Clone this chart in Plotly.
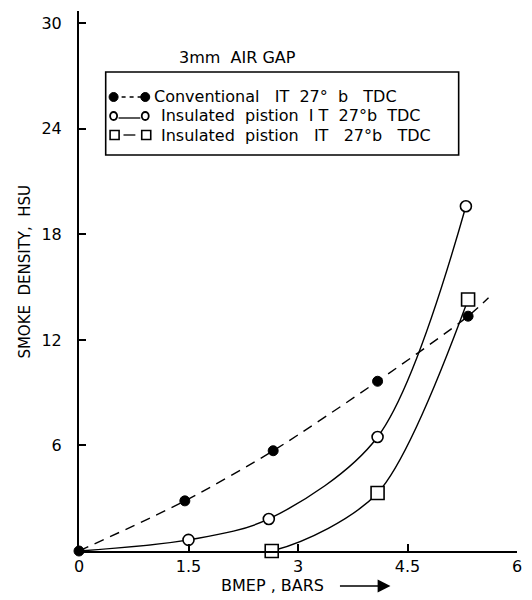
import plotly.graph_objects as go

# ---------------- data ----------------
bmep_conv = [0, 1.45, 2.66, 4.09, 5.33]
smoke_conv = [0, 2.85, 5.7, 9.65, 13.35]
# extent of the dashed trend line drawn through the conventional points
conv_line_x = [0, 1.45, 2.66, 4.09, 5.33, 5.61]
conv_line_y = [0, 2.85, 5.7, 9.65, 13.35, 14.4]

bmep_ins = [0, 1.50, 2.60, 4.09, 5.30]
smoke_ins = [0, 0.63, 1.82, 6.48, 19.6]

bmep_sq = [0, 2.64, 4.09, 5.33]
smoke_sq = [0, 0.0, 3.3, 14.3]

x_ticks = [0, 1.5, 3, 4.5, 6]
x_ticktext = ["0", "1.5", "3", "4.5", "6"]
y_ticks = [6, 12, 18, 24, 30]
y_ticktext = ["6", "12", "18", "24", "30"]

legend_labels = [
    "Conventional   IT  27°  b   TDC",
    "Insulated  pistion  I T  27°b  TDC",
    "Insulated  pistion   IT   27°b   TDC",
]
chart_title = "3mm  AIR GAP"
x_title = "BMEP , BARS"
y_title = "SMOKE  DENSITY,  HSU"

# ---------------- layout geometry ----------------
W, H = 532, 600
L, R, T, B = 79, 10, 11, 49
PW, PH = W - L - R, H - T - B
FONT = "DejaVu Sans"


def px(x):
    return (x - L) / PW


def py(y):
    return (H - B - y) / PH


fig = go.Figure()

# lines
fig.add_trace(go.Scatter(x=conv_line_x, y=conv_line_y, mode="lines",
                         line=dict(color="black", width=1.4, dash="10px,7px", shape="spline", smoothing=0.8),
                         hoverinfo="skip", showlegend=False))
fig.add_trace(go.Scatter(x=bmep_ins, y=smoke_ins, mode="lines",
                         line=dict(color="black", width=1.4, shape="spline", smoothing=0.9),
                         hoverinfo="skip", showlegend=False))
fig.add_trace(go.Scatter(x=bmep_sq, y=smoke_sq, mode="lines",
                         line=dict(color="black", width=1.4, shape="spline", smoothing=0.8),
                         hoverinfo="skip", showlegend=False))

# markers
fig.add_trace(go.Scatter(x=bmep_ins[1:], y=smoke_ins[1:], mode="markers", cliponaxis=False,
                         marker=dict(symbol="circle", size=11, color="white",
                                     line=dict(color="black", width=1.6)),
                         showlegend=False))
fig.add_trace(go.Scatter(x=bmep_sq[1:], y=smoke_sq[1:], mode="markers", cliponaxis=False,
                         marker=dict(symbol="square", size=13, color="white",
                                     line=dict(color="black", width=1.6)),
                         showlegend=False))
fig.add_trace(go.Scatter(x=bmep_conv, y=smoke_conv, mode="markers", cliponaxis=False,
                         marker=dict(symbol="circle", size=10, color="black",
                                     line=dict(color="black", width=1)),
                         showlegend=False))

shapes = []
annotations = []

# legend box
shapes.append(dict(type="rect", xref="paper", yref="paper",
                   x0=px(106), x1=px(463), y0=py(155), y1=py(72),
                   line=dict(color="black", width=1.6), fillcolor="white", layer="below"))

rows_y = [97, 116, 135]
m1x, m2x = 114, 146
# row 1: filled circles with dashed line
shapes.append(dict(type="line", xref="paper", yref="paper", x0=px(m1x), x1=px(m2x),
                   y0=py(rows_y[0]), y1=py(rows_y[0]), line=dict(color="black", width=1.3, dash="4px,4px")))
# row 2: solid
shapes.append(dict(type="line", xref="paper", yref="paper", x0=px(m1x + 5), x1=px(m2x - 5),
                   y0=py(rows_y[1] + 2), y1=py(rows_y[1] + 2), line=dict(color="black", width=1.3)))
# row 3: short solid
shapes.append(dict(type="line", xref="paper", yref="paper", x0=px(m1x + 10), x1=px(m2x - 10),
                   y0=py(rows_y[2]), y1=py(rows_y[2]), line=dict(color="black", width=1.3)))

for mx in (m1x, m2x):
    shapes.append(dict(type="circle", xref="paper", yref="paper", xsizemode="pixel", ysizemode="pixel",
                       xanchor=px(mx), yanchor=py(rows_y[0]), x0=-4.5, x1=4.5, y0=-4.5, y1=4.5,
                       fillcolor="black", line=dict(color="black", width=1)))
    shapes.append(dict(type="circle", xref="paper", yref="paper", xsizemode="pixel", ysizemode="pixel",
                       xanchor=px(mx), yanchor=py(rows_y[1]), x0=-3.5, x1=3.5, y0=-4, y1=4,
                       fillcolor="white", line=dict(color="black", width=1.8)))
    shapes.append(dict(type="rect", xref="paper", yref="paper", xsizemode="pixel", ysizemode="pixel",
                       xanchor=px(mx + 1), yanchor=py(rows_y[2]), x0=-4.5, x1=4.5, y0=-4.5, y1=4.5,
                       fillcolor="white", line=dict(color="black", width=1.6)))

text_x = [153, 160, 160]
for lbl, ty, tx in zip(legend_labels, rows_y, text_x):
    annotations.append(dict(xref="paper", yref="paper", x=px(tx), y=py(ty), text=lbl,
                            showarrow=False, xanchor="left", yanchor="middle",
                            font=dict(family=FONT, size=16, color="black")))

annotations.append(dict(xref="paper", yref="paper", x=px(178), y=py(58), text=chart_title,
                        showarrow=False, xanchor="left", yanchor="middle",
                        font=dict(family=FONT, size=16, color="black")))

# x axis title + arrow
annotations.append(dict(xref="paper", yref="paper", x=px(275), y=py(585), text=x_title,
                        showarrow=False, xanchor="center", yanchor="middle",
                        font=dict(family=FONT, size=16, color="black")))
annotations.append(dict(xref="paper", yref="paper", x=px(394), y=py(586), text="",
                        showarrow=True, ax=-52, ay=0, arrowhead=2, arrowsize=1.6,
                        arrowwidth=1.6, arrowcolor="black"))

# y axis title
annotations.append(dict(xref="paper", yref="paper", x=px(24), y=py(272), text=y_title,
                        showarrow=False, textangle=-90, xanchor="center", yanchor="middle",
                        font=dict(family=FONT, size=15, color="black")))

fig.update_layout(
    width=W, height=H,
    margin=dict(l=L, r=R, t=T, b=B),
    paper_bgcolor="white", plot_bgcolor="white",
    shapes=shapes, annotations=annotations,
    showlegend=False,
    xaxis=dict(range=[0, 6], tickvals=x_ticks, ticktext=x_ticktext,
               showgrid=False, zeroline=False, showline=True, linecolor="black", linewidth=2,
               ticks="inside", ticklen=7, tickwidth=1.5, tickcolor="black",
               tickfont=dict(family=FONT, size=16, color="black")),
    yaxis=dict(range=[0, 30.7], tickvals=y_ticks, ticktext=y_ticktext,
               showgrid=False, zeroline=False, showline=True, linecolor="black", linewidth=2,
               ticks="inside", ticklen=7, tickwidth=1.5, tickcolor="black",
               ticklabelstandoff=12,
               tickfont=dict(family=FONT, size=16, color="black")),
)

fig.write_html("out.html")
